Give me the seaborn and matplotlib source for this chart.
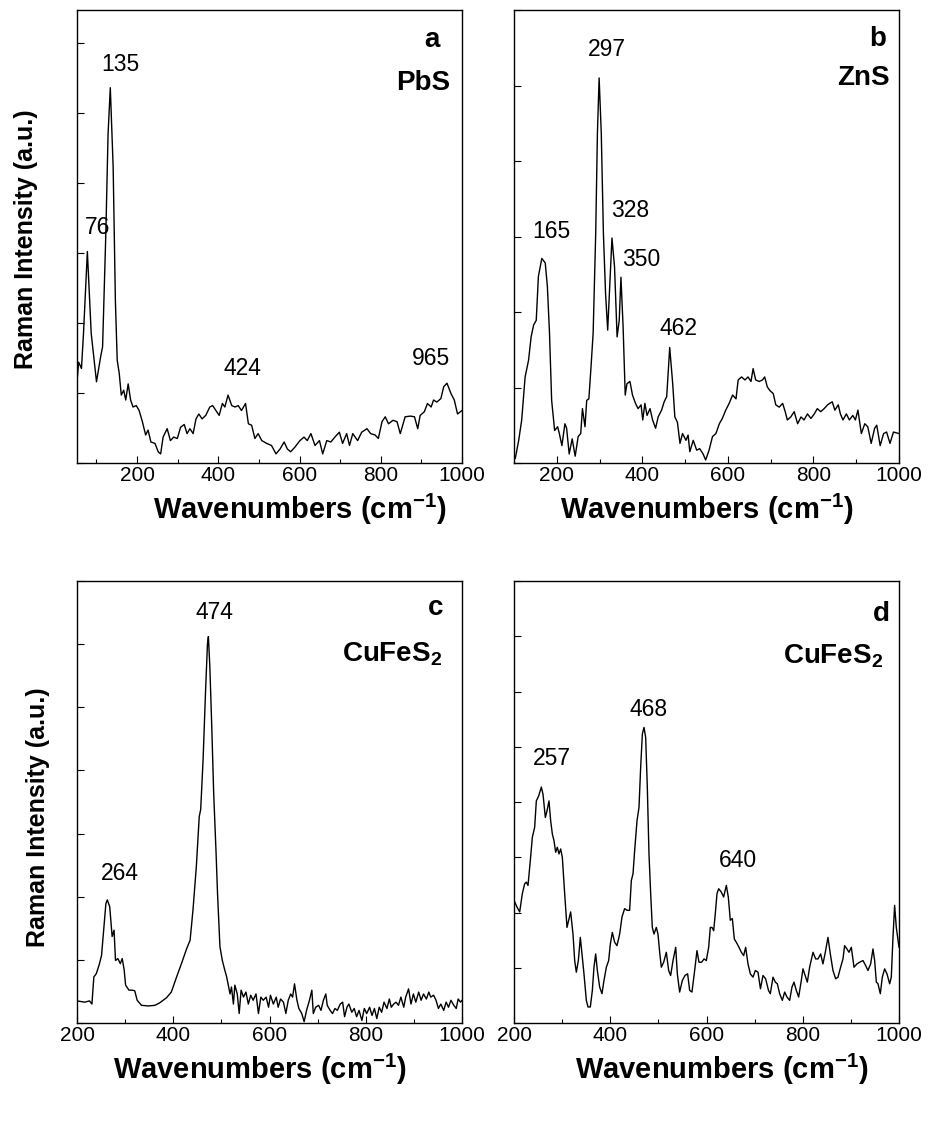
import numpy as np
import pandas as pd
import matplotlib
matplotlib.use("Agg")
import matplotlib.pyplot as plt
import seaborn as sns
from matplotlib import font_manager as fm
from matplotlib.ticker import MultipleLocator

# ---------------- data ----------------
pbs_x = [50, 56, 63, 68, 77.5, 87, 100, 110, 115, 123, 128.5, 134, 141, 146.5, 151, 156, 161, 167, 172, 178,
         184, 190, 198, 205, 213, 221, 227, 234, 244, 252, 258, 264, 274, 282, 290, 299, 307, 316, 323, 330,
         338, 345, 352, 360, 369, 379, 386, 394, 402, 410, 416, 424, 433, 441, 449, 457, 467, 474, 482, 490,
         498, 507, 519, 531, 542, 552, 562, 570, 578, 589, 601, 611, 619, 628, 638, 649, 657, 667, 677, 687,
         698, 706, 716, 723, 731, 743, 753, 766, 775, 786, 794, 803, 811, 819, 830, 840, 848, 860, 873, 883,
         891, 897, 907, 915, 924, 930, 938, 948, 955, 963, 973, 981, 989, 1000]
pbs_y = [1.01, 1.44, 1.35, 1.85, 3.02, 1.85, 1.16, 1.51, 1.66, 3.28, 4.70, 5.36, 4.23, 2.32, 1.47, 1.28, 0.97, 1.04, 0.90, 1.13,
         0.90, 0.80, 0.82, 0.75, 0.59, 0.40, 0.47, 0.30, 0.28, 0.16, 0.13, 0.37, 0.49, 0.32, 0.37, 0.35, 0.51, 0.55, 0.42, 0.49,
         0.42, 0.63, 0.70, 0.63, 0.68, 0.80, 0.82, 0.75, 0.68, 0.85, 0.80, 0.97, 0.82, 0.80, 0.82, 0.75, 0.85, 0.56, 0.54, 0.35,
         0.42, 0.32, 0.28, 0.25, 0.13, 0.20, 0.30, 0.20, 0.16, 0.23, 0.32, 0.37, 0.32, 0.42, 0.25, 0.32, 0.13, 0.32, 0.30, 0.37,
         0.44, 0.28, 0.42, 0.25, 0.42, 0.32, 0.44, 0.49, 0.42, 0.40, 0.35, 0.59, 0.66, 0.56, 0.61, 0.59, 0.42, 0.66, 0.67, 0.66,
         0.49, 0.68, 0.73, 0.85, 0.80, 0.90, 0.87, 0.92, 1.09, 1.14, 0.99, 0.90, 0.70, 0.75]

zns_x = [103, 111, 118, 126, 134, 140, 146, 152, 157, 165, 173, 178, 183, 188, 195, 202, 206, 212, 219, 223,
         229, 236, 243, 250, 256, 260, 266, 270, 275, 280, 285, 291, 295, 299, 304, 309, 314, 319, 324, 329,
         335, 341, 346, 350, 355, 360, 364, 371, 377, 384, 390, 397, 401, 406, 411, 418, 424, 431, 437, 445,
         451, 457, 464, 471, 476, 482, 488, 494, 502, 507, 511, 519, 527, 534, 542, 548, 556, 564, 572, 580,
         587, 595, 603, 611, 619, 624, 632, 640, 647, 654, 659, 665, 673, 681, 686, 692, 698, 706, 712, 720,
         728, 734, 739, 747, 755, 763, 771, 778, 786, 794, 802, 809, 817, 825, 833, 838, 844, 850, 858, 863,
         869, 877, 884, 892, 898, 904, 912, 920, 927, 935, 943, 948, 956, 964, 971, 979, 987, 1000]
zns_y = [0.06, 0.30, 0.57, 1.14, 1.36, 1.67, 1.83, 1.89, 2.47, 2.71, 2.65, 2.34, 1.72, 0.83, 0.43, 0.48, 0.39, 0.23, 0.52, 0.46,
         0.12, 0.32, 0.09, 0.35, 0.39, 0.72, 0.48, 0.83, 0.85, 1.27, 1.72, 3.04, 4.37, 5.10, 4.37, 3.04, 2.25, 1.76, 2.38, 2.98,
         2.60, 1.67, 1.89, 2.46, 1.81, 0.90, 1.05, 1.08, 0.90, 0.79, 0.72, 0.77, 0.57, 0.79, 0.63, 0.72, 0.57, 0.46, 0.61, 0.70,
         0.81, 0.88, 1.53, 1.05, 0.61, 0.54, 0.26, 0.39, 0.30, 0.37, 0.15, 0.30, 0.17, 0.19, 0.12, 0.04, 0.17, 0.35, 0.39, 0.52,
         0.59, 0.70, 0.79, 0.90, 0.85, 1.10, 1.14, 1.10, 1.14, 1.08, 1.25, 1.10, 1.08, 1.10, 1.14, 1.01, 0.96, 0.92, 0.77, 0.74,
         0.79, 0.68, 0.57, 0.61, 0.68, 0.52, 0.61, 0.57, 0.65, 0.59, 0.65, 0.72, 0.68, 0.72, 0.77, 0.79, 0.81, 0.70, 0.77, 0.65,
         0.57, 0.65, 0.57, 0.63, 0.57, 0.70, 0.39, 0.52, 0.48, 0.26, 0.46, 0.50, 0.23, 0.39, 0.41, 0.26, 0.41, 0.39]

cufes2_c_x = [200, 216, 226, 231, 235, 240, 246, 251, 256, 260, 263, 268, 273, 277, 280, 285, 290, 294, 298, 301,
              308, 315, 320, 325, 334, 348, 362, 372, 386, 396, 407, 417, 428, 435, 441, 448, 454, 457, 462, 467,
              471, 473, 476, 480, 484, 489, 492, 497, 502, 507, 511,
              518, 521, 525, 528, 533, 537, 541, 546, 551, 556, 561, 566, 572, 577, 582, 587, 593, 598, 602, 608,
              614, 618, 623, 629, 634, 639, 644, 648, 652, 657, 661, 667, 672, 677, 683, 688, 691, 696, 702, 707,
              712, 717, 720, 726, 731, 736, 741, 747, 752, 756, 761, 765, 771, 776, 781, 786, 792, 797, 802, 808,
              813, 818, 823, 828, 833, 838, 844, 849, 853, 858, 863, 868, 873, 879, 883, 889, 894, 899, 904, 910,
              915, 920, 926, 931, 935, 941, 946, 951, 956, 962, 967, 972, 977, 983, 988, 992, 997, 1000]
cufes2_c_y = [0.35, 0.33, 0.35, 0.30, 0.73, 0.78, 0.92, 1.07, 1.52, 1.89, 1.95, 1.84, 1.37, 1.47, 0.99, 1.02, 0.94, 1.02, 0.84, 0.60,
              0.52, 0.52, 0.51, 0.36, 0.28, 0.27, 0.28, 0.32, 0.40, 0.49, 0.73, 0.94, 1.18, 1.31, 1.79, 2.48, 3.27, 3.38, 4.17, 5.23,
              5.99, 6.12, 5.65, 4.70, 3.64, 2.69, 2.05, 1.21, 0.99, 0.84, 0.73,
              0.46, 0.57, 0.30, 0.60, 0.46, 0.15, 0.52, 0.41, 0.49, 0.30, 0.44, 0.36, 0.46, 0.15, 0.41, 0.36, 0.41, 0.25, 0.44, 0.30,
              0.41, 0.25, 0.38, 0.33, 0.15, 0.36, 0.46, 0.41, 0.62, 0.36, 0.23, 0.15, 0.02, 0.20, 0.36, 0.52, 0.15, 0.25, 0.28, 0.20,
              0.36, 0.46, 0.28, 0.20, 0.15, 0.23, 0.20, 0.30, 0.33, 0.10, 0.25, 0.30, 0.17, 0.23, 0.10, 0.20, 0.04, 0.23, 0.15, 0.25,
              0.12, 0.23, 0.07, 0.25, 0.17, 0.33, 0.23, 0.38, 0.25, 0.30, 0.33, 0.28, 0.41, 0.25, 0.41, 0.54, 0.30, 0.46, 0.33, 0.49,
              0.36, 0.46, 0.38, 0.49, 0.41, 0.44, 0.36, 0.23, 0.30, 0.20, 0.33, 0.25, 0.36, 0.28, 0.23, 0.38, 0.33, 0.36]

cufes2_d_x = [200, 206.2, 211.8, 217.3, 222.2, 225.6, 229.1, 233.9, 238.1, 242.9,
              246.4, 251.3, 256.8, 260.3, 265.1, 268.6, 272.7, 276.2, 279.7, 283.1,
              286.6, 290.0, 293.5, 297.0, 300.4, 305.3, 310.1, 313.6, 317.7, 322.6,
              326.1, 329.5, 333.7, 337.8, 342.0, 345.4, 350.3, 353.8, 358.6, 362.8,
              366.2, 369.7, 373.2, 378.0, 382.8, 387.0, 391.9, 396.7, 400.2, 404.3,
              409.2, 414.0, 419.6, 424.4, 429.9, 434.8, 440.3, 443.8, 447.3, 450.7,
              455.6, 459.7, 463.2, 466.7, 470.1, 473.6, 477.0, 480.5, 484.0, 487.4,
              490.9, 495.7, 499.2, 502.7, 506.1, 511.0, 516.5, 521.4, 525.5, 530.4,
              536.0, 539.4, 544.2, 549.8, 555.3, 560.8, 565.0, 569.8, 575.4, 580.2,
              584.4, 589.9, 594.8, 599.6, 604.5, 607.9, 611.4, 614.9, 618.3, 621.8,
              625.3, 630.8, 635.6, 641.2, 645.3, 649.5, 653.7, 657.8, 662.0, 667.5,
              672.4, 677.2, 681.4, 686.2, 691.1, 696.6, 701.5, 707.0, 712.1, 717.4,
              722.9, 728.8, 732.6, 738.2, 743.0, 747.2, 752.0, 757.6, 762.4, 767.2,
              772.8, 777.6, 781.8, 786.6, 791.5, 797.0, 800.5, 803.9, 809.5, 814.3,
              821.3, 826.8, 831.7, 837.2, 842.0, 846.9, 852.4, 857.3, 862.8, 868.4,
              873.2, 878.7, 883.6, 887.0, 891.9, 896.1, 900.9, 906.5, 912.7, 918.2,
              925.2, 930.7, 935.5, 941.1, 945.9, 949.4, 952.9, 956.3, 961.2, 965.3,
              970.2, 975.0, 980.6, 984.0, 987.5, 990.9, 994.4, 1000]
cufes2_d_y = [2.22, 2.10, 2.01, 2.34, 2.52, 2.55, 2.49, 2.94, 3.36, 3.54,
              4.02, 4.11, 4.27, 4.14, 3.72, 3.84, 4.02, 3.66, 3.42, 3.30,
              3.09, 3.18, 3.06, 3.15, 3.00, 2.34, 1.73, 1.86, 2.01, 1.61,
              1.13, 0.92, 1.13, 1.55, 1.19, 0.89, 0.41, 0.29, 0.29, 0.59,
              1.01, 1.25, 0.95, 0.65, 0.53, 0.77, 1.01, 1.13, 1.43, 1.64,
              1.46, 1.40, 1.61, 1.92, 2.07, 2.04, 2.04, 2.58, 2.70, 3.12,
              3.66, 3.90, 4.63, 5.23, 5.35, 5.17, 4.27, 3.06, 2.34, 1.73,
              1.61, 1.73, 1.61, 1.28, 1.01, 1.10, 1.28, 0.95, 0.86, 1.13,
              1.37, 0.89, 0.56, 0.77, 0.86, 0.89, 0.59, 0.56, 0.95, 1.31,
              1.10, 1.10, 1.16, 1.13, 1.37, 1.73, 1.73, 1.67, 1.98, 2.34,
              2.43, 2.37, 2.28, 2.49, 2.28, 1.86, 1.89, 1.52, 1.46, 1.37,
              1.28, 1.22, 1.37, 1.07, 0.89, 0.83, 0.95, 0.92, 0.62, 0.86,
              0.80, 0.59, 0.53, 0.83, 0.74, 0.71, 0.53, 0.41, 0.56, 0.47,
              0.41, 0.65, 0.74, 0.59, 0.47, 0.77, 0.98, 0.89, 0.74, 1.01,
              1.28, 1.16, 1.16, 1.25, 1.07, 1.28, 1.55, 1.25, 0.95, 0.80,
              0.83, 1.01, 1.16, 1.40, 1.34, 1.28, 1.37, 1.01, 1.07, 1.10,
              1.13, 1.04, 0.95, 1.07, 1.34, 1.13, 0.74, 0.71, 0.53, 0.83,
              0.98, 0.89, 0.71, 0.83, 1.55, 2.13, 1.73, 1.37]

panel_letters = ["a", "b", "c", "d"]
panel_names = ["PbS", "ZnS", r"CuFeS$_\mathbf{2}$", r"CuFeS$_\mathbf{2}$"]
peak_labels = [["76", "135", "424", "965"],
               ["165", "297", "328", "350", "462"],
               ["264", "474"],
               ["257", "468", "640"]]
x_tick_values = [200, 400, 600, 800, 1000]
x_label = r"Wavenumbers (cm$^{\mathbf{-1}}$)"
y_label = "Raman Intensity (a.u.)"

# ---------------- layout / style ----------------
series = [(pbs_x, pbs_y), (zns_x, zns_y), (cufes2_c_x, cufes2_c_y), (cufes2_d_x, cufes2_d_y)]
xlims = [(52, 1000), (100, 1000), (200, 1000), (200, 1000)]
ylims = [(0, 6.47), (0, 6.0), (0, 7.0), (0, 8.0)]
peak_pos = [[(102, 3.37), (159, 5.69), (460, 1.35), (924, 1.49)],
            [(188, 3.07), (316, 5.48), (372, 3.35), (398, 2.70), (484, 1.78)],
            [(289.5, 2.37), (486, 6.50)],
            [(278, 4.78), (480, 5.68), (666, 2.95)]]
letter_pos = [(927, 6.04), (949, 5.62), (946, 6.58), (964, 7.40)]
name_pos = [(904, 5.33), (917, 5.01), (855, 5.73), (862, 6.52)]
rects = [[77 / 930, 1 - 463 / 1135, 385 / 930, 453 / 1135],
         [514 / 930, 1 - 463 / 1135, 385 / 930, 453 / 1135],
         [77 / 930, 1 - 1023 / 1135, 385 / 930, 442 / 1135],
         [514 / 930, 1 - 1023 / 1135, 385 / 930, 442 / 1135]]
xlabel_coords = [(0.579, -0.124), (0.501, -0.124), (0.475, -0.127), (0.54, -0.127)]
ylabel_coords = [(-0.132, 0.494), None, (-0.101, 0.466), None]

sns.set_theme(style="ticks")
names_avail = {f.name for f in fm.fontManager.ttflist}
has_narrow = "Liberation Sans Narrow" in names_avail
label_family = "Liberation Sans Narrow" if has_narrow else "Liberation Sans"
xl_size, yl_size = (25, 23) if has_narrow else (21, 18)

plt.rcParams["font.family"] = ["Liberation Sans", "DejaVu Sans"]
plt.rcParams["mathtext.fontset"] = "custom"
plt.rcParams["mathtext.rm"] = "Liberation Sans"
plt.rcParams["mathtext.bf"] = "Liberation Sans:bold"
for key in ["text.color", "axes.labelcolor", "xtick.color", "ytick.color", "axes.edgecolor"]:
    plt.rcParams[key] = "black"

fig = plt.figure(figsize=(9.3, 11.35), dpi=100)
fig.patch.set_facecolor("white")

for i in range(4):
    ax = fig.add_axes(rects[i])
    ax.set_facecolor("white")
    xs, ys = series[i]
    df = pd.DataFrame({"x": xs, "y": ys})
    sns.lineplot(data=df, x="x", y="y", ax=ax, color="black", linewidth=1.0,
                 estimator=None, sort=False)
    ax.set_xlim(*xlims[i])
    ax.set_ylim(*ylims[i])
    ax.set_xticks(x_tick_values)
    ax.set_xticklabels([str(v) for v in x_tick_values])
    ax.xaxis.set_minor_locator(MultipleLocator(100))
    ax.yaxis.set_major_locator(MultipleLocator(1))
    ax.set_yticklabels([])
    ax.tick_params(axis="both", which="major", direction="in", length=5, width=0.8,
                   color="black", labelcolor="black", labelsize=15, pad=2)
    ax.tick_params(axis="x", which="minor", direction="in", length=3, width=0.8, color="black")
    ax.tick_params(axis="y", which="both", left=True, right=False)
    ax.tick_params(axis="x", which="both", bottom=True, top=False)
    for sp in ax.spines.values():
        sp.set_color("black")
        sp.set_linewidth(1.0)
        sp.set_visible(True)

    ax.set_xlabel(x_label, fontsize=xl_size, fontweight="bold", family=label_family, color="black")
    ax.xaxis.label.set_va("baseline")
    ax.xaxis.set_label_coords(*xlabel_coords[i])
    if ylabel_coords[i] is not None:
        ax.set_ylabel(y_label, fontsize=yl_size, fontweight="bold", family=label_family, color="black")
        ax.yaxis.label.set_va("center")
        ax.yaxis.set_label_coords(*ylabel_coords[i])
    else:
        ax.set_ylabel("")

    for lab, (px, py) in zip(peak_labels[i], peak_pos[i]):
        ax.text(px, py, lab, ha="center", va="center", fontsize=16.5, color="black")
    ax.text(*letter_pos[i], panel_letters[i], ha="center", va="center",
            fontsize=20, fontweight="bold", color="black")
    ax.text(*name_pos[i], panel_names[i], ha="center", va="baseline",
            fontsize=20, fontweight="bold", color="black")

fig.savefig("out.png", dpi=100, facecolor="white")
